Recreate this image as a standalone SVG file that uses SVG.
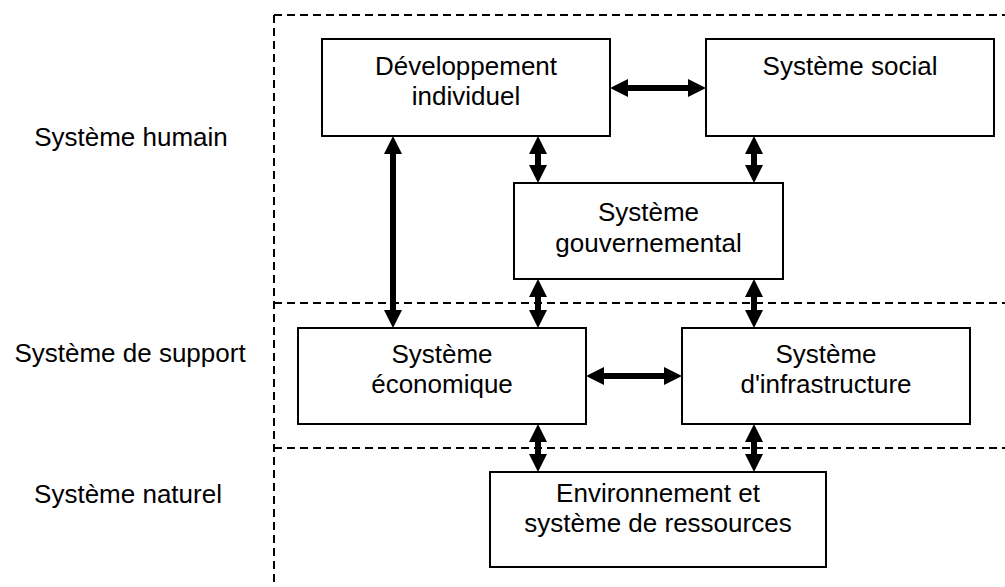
<svg xmlns="http://www.w3.org/2000/svg" width="1005" height="587" viewBox="0 0 1005 587">
  <style>
    .box { fill: #ffffff; stroke: #000000; stroke-width: 2; }
    .dash { fill: none; stroke: #000000; stroke-width: 2; stroke-dasharray: 8 5; }
    .lbl { font-family: "Liberation Sans", Arial, sans-serif; font-size: 26px; fill: #000000; text-anchor: middle; }
    .arrow { stroke: #000000; stroke-width: 6; fill: none; marker-start: url(#ah); marker-end: url(#ah); }
  </style>
  <defs>
    <marker id="ah" markerUnits="userSpaceOnUse" markerWidth="18" markerHeight="18" viewBox="0 0 18 18" refX="8" refY="9" orient="auto-start-reverse">
      <path d="M0,0 L18,9 L0,18 Z" fill="#000000"/>
    </marker>
  </defs>
  <rect x="0" y="0" width="1005" height="587" fill="#ffffff"/>

  <g id="zones">
    <path class="dash" d="M274,15 H1005 M274,15 V587 M274,303 H1005 M274,448 H1005"/>
    <text class="lbl" x="131" y="146">Système humain</text>
    <text class="lbl" x="130" y="362">Système de support</text>
    <text class="lbl" x="128" y="503">Système naturel</text>
  </g>

  <g id="connectors">
    <line class="arrow" x1="620" y1="88" x2="696" y2="88"/>
    <line class="arrow" x1="393" y1="146" x2="393" y2="318"/>
    <line class="arrow" x1="538" y1="146" x2="538" y2="173"/>
    <line class="arrow" x1="754" y1="146" x2="754" y2="173"/>
    <line class="arrow" x1="538" y1="289" x2="538" y2="318"/>
    <line class="arrow" x1="754" y1="289" x2="754" y2="318"/>
    <line class="arrow" x1="596" y1="376" x2="672" y2="376"/>
    <line class="arrow" x1="538" y1="434" x2="538" y2="462"/>
    <line class="arrow" x1="754" y1="434" x2="754" y2="462"/>
  </g>

  <g id="dev">
    <rect class="box" x="322" y="39" width="288" height="97"/>
    <text class="lbl" x="466" y="75">Développement</text>
    <text class="lbl" x="466" y="105">individuel</text>
  </g>
  <g id="social">
    <rect class="box" x="706" y="39" width="288" height="97"/>
    <text class="lbl" x="850" y="75">Système social</text>
  </g>
  <g id="gouv">
    <rect class="box" x="514" y="183" width="269" height="96"/>
    <text class="lbl" x="648.5" y="221">Système</text>
    <text class="lbl" x="648.5" y="252">gouvernemental</text>
  </g>
  <g id="eco">
    <rect class="box" x="298" y="328" width="288" height="96"/>
    <text class="lbl" x="442" y="363">Système</text>
    <text class="lbl" x="442" y="393">économique</text>
  </g>
  <g id="infra">
    <rect class="box" x="682" y="328" width="288" height="96"/>
    <text class="lbl" x="826" y="363">Système</text>
    <text class="lbl" x="826" y="393">d'infrastructure</text>
  </g>
  <g id="env">
    <rect class="box" x="490" y="472" width="336" height="95"/>
    <text class="lbl" x="658" y="502">Environnement et</text>
    <text class="lbl" x="658" y="532">système de ressources</text>
  </g>
</svg>
